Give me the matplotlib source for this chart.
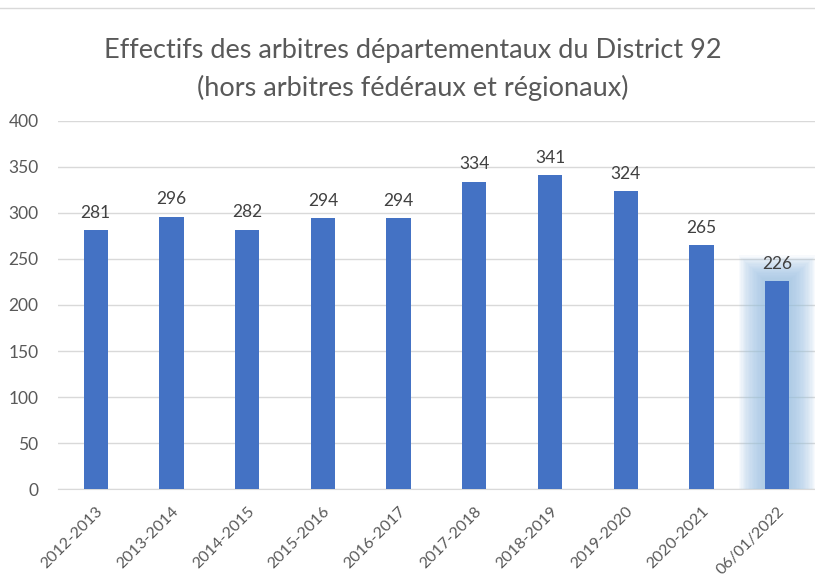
import numpy as np
import matplotlib.pyplot as plt

seasons = ['2012-2013', '2013-2014', '2014-2015', '2015-2016', '2016-2017',
           '2017-2018', '2018-2019', '2019-2020', '2020-2021', '06/01/2022']
effectifs = [281, 296, 282, 294, 294, 334, 341, 324, 265, 226]

plt.rcParams['font.family'] = ['Lato', 'DejaVu Sans']

BLUE = '#4472C4'
GRAY = '#595959'

fig = plt.figure(figsize=(8.15, 5.76), dpi=100)
ax = fig.add_axes([0.071, 0.151, 0.929, 0.639])

x = np.arange(len(seasons))
bw = 0.32

# halo autour de la derniere barre
n = 20
for k in range(n):
    w = bw + 0.70 * (1 - k / n)
    h = effectifs[-1] + 28 * (1 - k / n)
    ax.bar(x[-1], h, width=w, color='#9DC3E6', alpha=0.07, zorder=2,
           linewidth=0)

ax.bar(x, effectifs, width=bw, color=BLUE, zorder=3)

for xi, v in zip(x, effectifs):
    ax.text(xi, v + 10, str(v), ha='center', va='bottom', fontsize=12.5,
            color='#404040', zorder=4)

ax.set_ylim(0, 400)
ax.set_xlim(-0.5, len(seasons) - 0.5)
ax.set_yticks(range(0, 401, 50))
ax.yaxis.grid(True, color='#D9D9D9', linewidth=1)
ax.set_axisbelow(True)
for s in ['left', 'right', 'top']:
    ax.spines[s].set_visible(False)
ax.spines['bottom'].set_color('#D9D9D9')
ax.tick_params(axis='both', length=0, colors=GRAY)
ax.tick_params(axis='y', pad=14, labelsize=12.5)
ax.tick_params(axis='x', pad=11, labelsize=11.5)
ax.set_xticks(x)
ax.set_xticklabels(seasons, rotation=45, ha='right', rotation_mode='anchor')

fig.text(0.507, 0.879, 'Effectifs des arbitres départementaux du District 92\n'
         '(hors arbitres fédéraux et régionaux)', ha='center', va='center',
         fontsize=19.5, color=GRAY, linespacing=1.55)

fig.add_artist(plt.Line2D([0, 1], [1 - 8 / 576] * 2, color='#D9D9D9',
                          linewidth=1))

fig.savefig('out.png', dpi=100)
